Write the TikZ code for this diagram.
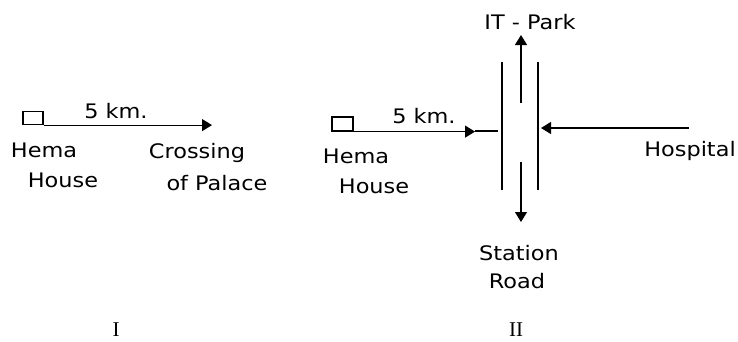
\documentclass[tikz,border=0pt]{standalone}
\usepackage{fontspec}
\setmainfont{DejaVu Sans}[FakeStretch=1.12]
\newfontfamily\numfont{Liberation Serif}
\usetikzlibrary{arrows.meta}
\begin{document}
\begin{tikzpicture}[x=1pt,y=-1pt]

% definitions
\tikzstyle{house} = [rectangle, minimum width=20pt, minimum height=13pt, draw=black, line width=1.2pt, inner sep=0pt]

\tikzstyle{lbl} = [anchor=base, inner sep=0pt, font=\fontsize{20}{24}\selectfont]

\tikzstyle{num} = [anchor=base, inner sep=0pt, font=\numfont\fontsize{21}{24}\selectfont]

\tikzstyle{arrow} = [line width=1.2pt, -{Triangle[length=10pt,width=12pt]}]

\tikzstyle{road} = [line width=1.2pt]

\useasboundingbox (0,0) rectangle (738,341);

% diagram I
\node (house1) [house] at (33,118) {};
\coordinate (cross1) at (212,124.5);
\draw [arrow] (house1.south east) -- (house1.south east -| cross1);

\node (dist1) [lbl] at (116,118) {5 km.};
\node (hema1) [lbl] at (44,157) {Hema};
\node (hse1) [lbl] at (63,187) {House};
\node (crossing) [lbl] at (197,158) {Crossing};
\node (palace) [lbl] at (217,190) {of Palace};

\node (one) [num] at (116,336) {I};

% diagram II
\node (house2) [house, minimum width=21pt, minimum height=14pt] at (342.5,124) {};
\coordinate (join1) at (475,131);
\coordinate (join2) at (498,131);
\draw [arrow] (house2.south east) -- (house2.south east -| join1);
\draw [road] (join1) -- (join2);

\draw [road] (502,62) -- (502,190);
\draw [road] (538,62) -- (538,190);

\coordinate (up0) at (521,103);
\coordinate (up1) at (521,35);
\coordinate (dn0) at (521,162);
\coordinate (dn1) at (521,222);
\coordinate (hosp0) at (689,128);
\coordinate (hosp1) at (541,128);
\draw [arrow] (up0) -- (up1);
\draw [arrow] (dn0) -- (dn1);
\draw [arrow] (hosp0) -- (hosp1);

\node (dist2) [lbl] at (424,123) {5 km.};
\node (hema2) [lbl] at (356,163) {Hema};
\node (hse2) [lbl] at (374,193) {House};
\node (park) [lbl] at (530,29) {IT - Park};
\node (hospital) [lbl] at (690,156) {Hospital};
\node (station) [lbl] at (519,260) {Station};
\node (roadlbl) [lbl] at (517,288) {Road};

\node (two) [num] at (516,336) {II};

\end{tikzpicture}
\end{document}
